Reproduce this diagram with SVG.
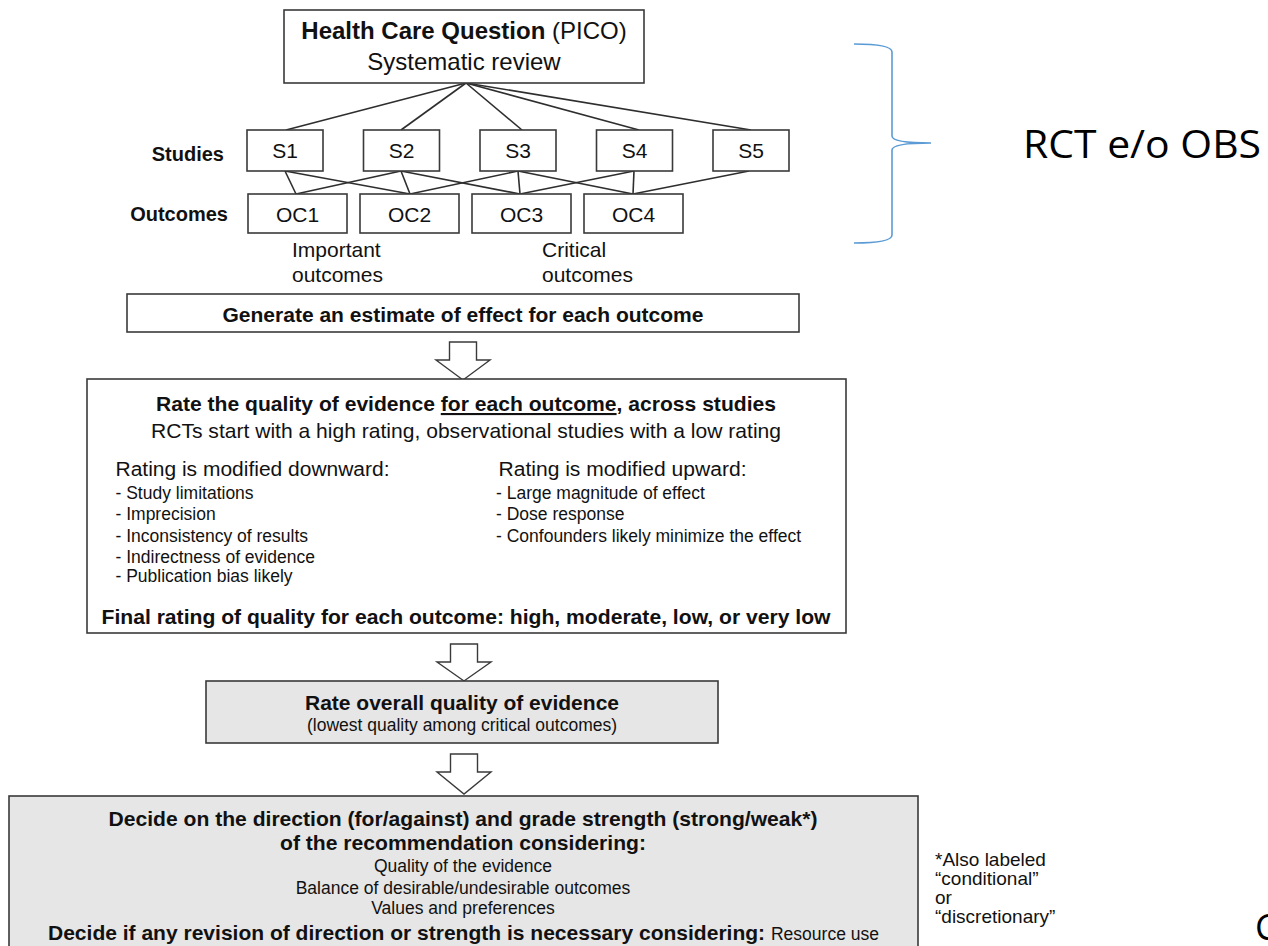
<svg xmlns="http://www.w3.org/2000/svg" width="1268" height="946" viewBox="0 0 1268 946">
<style>
  text { font-family: "Liberation Sans", Arial, sans-serif; fill: #111; }
  .box { fill: #ffffff; stroke: #3a3a3a; stroke-width: 1.6; }
  .gbox { fill: #e6e6e6; stroke: #3a3a3a; stroke-width: 1.6; }
  .b { font-weight: bold; }
  .c { text-anchor: middle; }
  .t24 { font-size: 24px; }
  .t21 { font-size: 21px; }
  .t20 { font-size: 20px; }
  .t17 { font-size: 17.5px; }
  .t19 { font-size: 19px; }
  .conn line { stroke: #2e2e2e; stroke-width: 1.6; }
  .arrow { fill: #ffffff; stroke: #3a3a3a; stroke-width: 1.4; stroke-linejoin: miter; }
  .cal { font-family: "Open Sans", "Noto Sans", sans-serif; fill: #000; }
</style>
<rect x="0" y="0" width="1268" height="946" fill="#ffffff"/>

<g id="connectors" class="conn">
  <line x1="466" y1="83" x2="286" y2="130"/>
  <line x1="466" y1="83" x2="401" y2="130"/>
  <line x1="466" y1="83" x2="522" y2="130"/>
  <line x1="466" y1="83" x2="639" y2="130"/>
  <line x1="466" y1="83" x2="751" y2="130"/>
  <line x1="285" y1="171" x2="296" y2="194"/>
  <line x1="285" y1="171" x2="410" y2="194"/>
  <line x1="401" y1="171" x2="296" y2="194"/>
  <line x1="401" y1="171" x2="410" y2="194"/>
  <line x1="401" y1="171" x2="520" y2="194"/>
  <line x1="518" y1="171" x2="410" y2="194"/>
  <line x1="518" y1="171" x2="520" y2="194"/>
  <line x1="518" y1="171" x2="633" y2="194"/>
  <line x1="634" y1="171" x2="520" y2="194"/>
  <line x1="634" y1="171" x2="633" y2="194"/>
  <line x1="749" y1="171" x2="633" y2="194"/>
  <path class="arrow" d="M449.5,342 H476.5 V360 H490 L463,380 L436,360 H449.5 Z"/>
  <path class="arrow" d="M450.5,644 H477.5 V662 H491 L464,681 L437,662 H450.5 Z"/>
  <path class="arrow" d="M450.5,754 H477.5 V772 H491 L464,794 L437,772 H450.5 Z"/>
</g>

<g id="question">
  <rect class="box" x="284" y="10" width="360" height="73"/>
  <text class="c t24" x="464" y="39"><tspan class="b">Health Care Question</tspan> (PICO)</text>
  <text class="c t24" x="464" y="70">Systematic review</text>
</g>

<g id="labels">
  <text class="b t20" x="224" y="160.5" text-anchor="end">Studies</text>
  <text class="b t20" x="228" y="221" text-anchor="end">Outcomes</text>
</g>

<g id="s1"><rect class="box" x="247" y="130" width="76" height="41"/><text class="c t21" x="285" y="158">S1</text></g>
<g id="s2"><rect class="box" x="363.5" y="130" width="76" height="41"/><text class="c t21" x="401.5" y="158">S2</text></g>
<g id="s3"><rect class="box" x="480" y="130" width="76" height="41"/><text class="c t21" x="518" y="158">S3</text></g>
<g id="s4"><rect class="box" x="596.5" y="130" width="76" height="41"/><text class="c t21" x="634.5" y="158">S4</text></g>
<g id="s5"><rect class="box" x="713" y="130" width="76" height="41"/><text class="c t21" x="751" y="158">S5</text></g>

<g id="oc1"><rect class="box" x="248" y="194" width="99" height="39"/><text class="c t21" x="297.5" y="221.5">OC1</text></g>
<g id="oc2"><rect class="box" x="360" y="194" width="99" height="39"/><text class="c t21" x="409.5" y="221.5">OC2</text></g>
<g id="oc3"><rect class="box" x="472" y="194" width="99" height="39"/><text class="c t21" x="521.5" y="221.5">OC3</text></g>
<g id="oc4"><rect class="box" x="584" y="194" width="99" height="39"/><text class="c t21" x="633.5" y="221.5">OC4</text></g>

<g id="important">
  <text class="t21" x="292" y="256.5">Important</text>
  <text class="t21" x="292" y="282">outcomes</text>
</g>
<g id="critical">
  <text class="t21" x="542" y="256.5">Critical</text>
  <text class="t21" x="542" y="282">outcomes</text>
</g>

<g id="generate">
  <rect class="box" x="127" y="294" width="672" height="38"/>
  <text class="c b t20" x="463" y="321.5" textLength="481" lengthAdjust="spacingAndGlyphs">Generate an estimate of effect for each outcome</text>
</g>

<g id="rate-each">
  <rect class="box" x="87" y="379" width="759" height="254"/>
  <text class="c b t21" x="466" y="411" textLength="620" lengthAdjust="spacingAndGlyphs">Rate the quality of evidence <tspan text-decoration="underline">for each outcome</tspan>, across studies</text>
  <text class="c t21" x="466" y="437.5" textLength="630" lengthAdjust="spacingAndGlyphs">RCTs start with a high rating, observational studies with a low rating</text>
  <text class="t20" x="115.5" y="476" textLength="274" lengthAdjust="spacingAndGlyphs">Rating is modified downward:</text>
  <text class="t17" x="115.5" y="498.5">- Study limitations</text>
  <text class="t17" x="115.5" y="520">- Imprecision</text>
  <text class="t17" x="115.5" y="541.5">- Inconsistency of results</text>
  <text class="t17" x="115.5" y="562.5">- Indirectness of evidence</text>
  <text class="t17" x="115.5" y="581.5">- Publication bias likely</text>
  <text class="t20" x="498.5" y="476" textLength="248" lengthAdjust="spacingAndGlyphs">Rating is modified upward:</text>
  <text class="t17" x="496" y="498.5">- Large magnitude of effect</text>
  <text class="t17" x="496" y="520">- Dose response</text>
  <text class="t17" x="496" y="541.5">- Confounders likely minimize the effect</text>
  <text class="c b t21" x="466" y="623.5" textLength="729" lengthAdjust="spacingAndGlyphs">Final rating of quality for each outcome: high, moderate, low, or very low</text>
</g>

<g id="rate-overall">
  <rect class="gbox" x="206" y="681" width="512" height="62"/>
  <text class="c b t21" x="462" y="710" textLength="314" lengthAdjust="spacingAndGlyphs">Rate overall quality of evidence</text>
  <text class="c t17" x="462" y="731" textLength="310" lengthAdjust="spacingAndGlyphs">(lowest quality among critical outcomes)</text>
</g>

<g id="decide">
  <rect class="gbox" x="9" y="796" width="909" height="170"/>
  <text class="c b t21" x="463" y="826" textLength="709" lengthAdjust="spacingAndGlyphs">Decide on the direction (for/against) and grade strength (strong/weak*)</text>
  <text class="c b t21" x="463" y="850" textLength="366" lengthAdjust="spacingAndGlyphs">of the recommendation considering:</text>
  <text class="c t17" x="463" y="872">Quality of the evidence</text>
  <text class="c t17" x="463" y="893.5">Balance of desirable/undesirable outcomes</text>
  <text class="c t17" x="463" y="914">Values and preferences</text>
  <text class="c b t21" x="463.5" y="940" textLength="831" lengthAdjust="spacingAndGlyphs">Decide if any revision of direction or strength is necessary considering: <tspan font-weight="normal" font-size="17.5px">Resource use</tspan></text>
</g>

<g id="footnote">
  <text class="t19" x="935" y="866">*Also labeled</text>
  <text class="t19" x="935" y="885">“conditional”</text>
  <text class="t19" x="935" y="904">or</text>
  <text class="t19" x="935" y="923">“discretionary”</text>
</g>

<g id="brace">
  <path d="M854,44 Q892,44 892,52 V136 Q892,143 931,143 Q892,143 892,150 V235 Q892,243 854,243" fill="none" stroke="#5b9bd5" stroke-width="1.6"/>
  <text class="cal" x="1023" y="158" font-size="38" textLength="238" lengthAdjust="spacingAndGlyphs">RCT e/o OBS</text>
</g>

<g id="cut-text">
  <text class="cal" x="1255" y="940" font-size="36">C</text>
</g>
</svg>
